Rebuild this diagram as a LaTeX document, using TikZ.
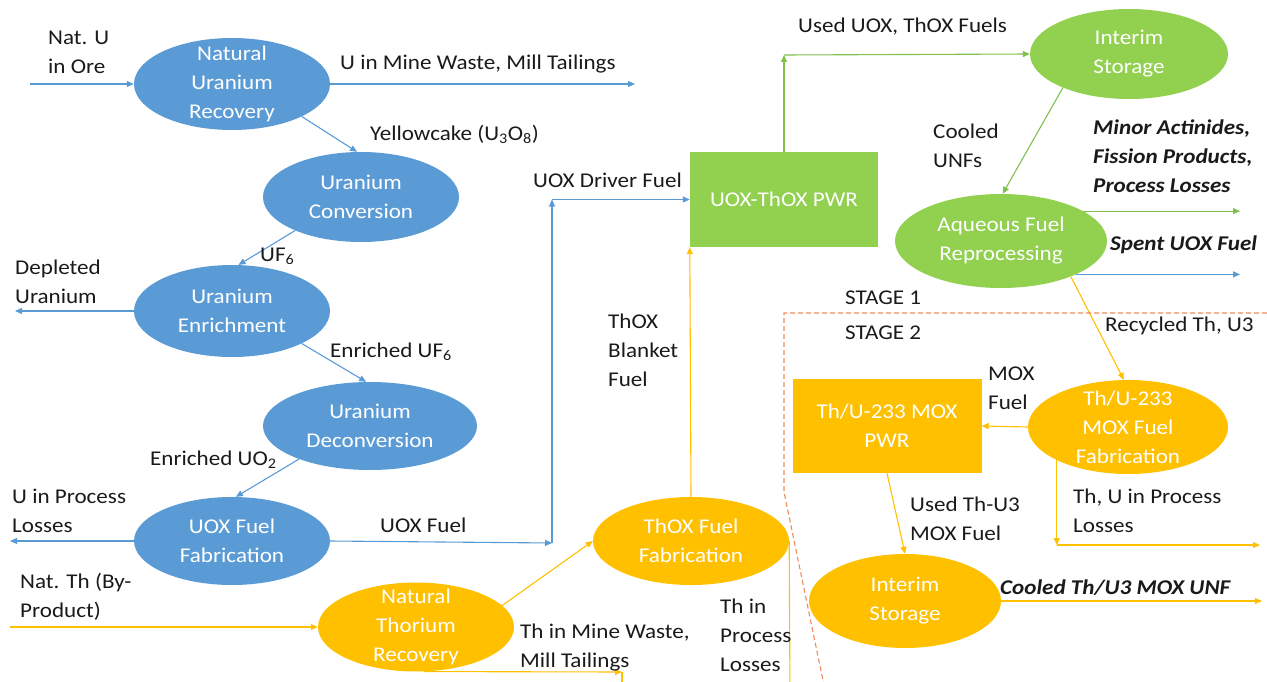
\documentclass[tikz,border=0pt]{standalone}
\usepackage{fontspec}
\setmainfont{Carlito}[FakeStretch=1.1]
\usetikzlibrary{shapes.geometric,arrows.meta}
\definecolor{ublue}{HTML}{5B9BD5}
\definecolor{ugreen}{HTML}{92D050}
\definecolor{gline}{HTML}{7FC04E}
\definecolor{uamber}{HTML}{FFC000}
\definecolor{stageline}{HTML}{F08A5D}
\definecolor{ink}{HTML}{1A1A1A}
\tikzset{
  ptext/.style={text=white,align=center,inner sep=0pt},
  proc/.style={ellipse,minimum width=196pt,minimum height=90pt,inner sep=0pt,
    label={[ptext]center:{#1}}},
  bluep/.style={proc={#1},fill=ublue},
  greenp/.style={proc={#1},fill=ugreen},
  amberp/.style={proc={#1},fill=uamber},
  reactor/.style={rectangle,minimum width=188pt,minimum height=95pt,inner sep=0pt,
    text=white,align=center},
  lbl/.style={anchor=west,align=left,inner sep=0pt,text=ink},
  elbl/.style={lbl,font=\fontsize{21}{29}\selectfont\bfseries\itshape},
  flow/.style={line width=1.1pt,-{Triangle[length=7pt,width=6pt]}},
  bflow/.style={flow,draw=ublue},
  gflow/.style={flow,draw=gline},
  aflow/.style={flow,draw=uamber},
  stage/.style={draw=stageline,line width=1.1pt,dash pattern=on 5pt off 3pt}
}
\begin{document}
\begin{tikzpicture}[x=1pt,y=-1pt,font=\fontsize{21}{29}\selectfont]
\useasboundingbox (0,0) rectangle (1267,682);

% uranium front end
\node[bluep={Natural\\Uranium\\Recovery},minimum height=92pt] (nur) at (232,84) {};
\node[bluep={Uranium\\Conversion}] (conv) at (361,197) {};
\node[bluep={Uranium\\Enrichment},minimum height=92pt] (enr) at (232,311) {};
\node[bluep={Uranium\\Deconversion},minimum width=214pt,minimum height=88pt] (deconv) at (370,426) {};
\node[bluep={UOX Fuel\\Fabrication},minimum height=88pt] (fab) at (232,541) {};

% thorium front end
\node[amberp={Natural\\Thorium\\Recovery},minimum height=89pt] (ntr) at (416,627) {};
\node[amberp={ThOX Fuel\\Fabrication},minimum height=88pt] (thfab) at (691,541) {};

% stage 1 reactor and back end
\node[reactor,fill=ugreen] (pwr1) at (784,199.5) {UOX-ThOX PWR};
\node[greenp={Interim\\Storage},minimum width=198pt,minimum height=90pt] (is1) at (1129,54) {};
\node[greenp={Aqueous Fuel\\Reprocessing},minimum width=212pt,minimum height=94pt] (aq) at (1001,241) {};

% stage 2
\node[reactor,fill=uamber,minimum width=189pt,minimum height=94pt] (pwr2) at (887,426) {Th/U-233 MOX\\PWR};
\node[amberp={Th/U-233\\MOX Fuel\\Fabrication},minimum width=200pt,minimum height=94pt] (mfab) at (1128,427) {};
\node[amberp={Interim\\Storage},minimum width=192pt,minimum height=94pt] (is2) at (905,601) {};

% free ends
\coordinate (natUin) at (30,84);
\coordinate (mineU) at (635,84);
\coordinate (du) at (15,311);
\coordinate (upl) at (10,541);
\coordinate (jA) at (552,543);
\coordinate (jB) at (552,199.5);
\coordinate (natTh) at (10,627);
\coordinate (thMine) at (622,672);
\coordinate (thMineEnd) at (622,700);
\coordinate (thLossEnd) at (790,700);
\coordinate (jC) at (784,55);
\coordinate (rightEnd) at (1240,0);
\coordinate (thuLoss) at (1260,545);
\coordinate (muEnd) at (1262,601);

% uranium chain
\draw[bflow] (natUin) -- (nur.west);
\draw[bflow] (nur.east) -- (mineU);
\draw[bflow] (nur.-25) -- (conv.95);
\draw[bflow] (conv.-153) -- (enr.82);
\draw[bflow] (enr.west) -- (du);
\draw[bflow] (enr.-25) -- (deconv.95);
\draw[bflow] (deconv.-155) -- (fab.85);
\draw[bflow] (fab.west) -- (upl);
\draw[bflow] (fab.east) -- (jA);
\draw[bflow] (jA) -- (jB);
\draw[bflow] (jB) -- (pwr1.west);

% thorium chain
\draw[aflow] (natTh) -- (ntr.west);
\draw[aflow] (ntr.14) -- (thfab.west);
\draw[aflow] (ntr.-80) -- (thMine);
\draw[aflow] (thMine) -- (thMineEnd);
\draw[aflow] (thfab.north) -- (pwr1.south west);
\draw[aflow] (thfab.east) -- (thLossEnd);

% stage 1 back end
\draw[gflow] (pwr1.north) -- (jC);
\draw[gflow] (jC) -- (is1.west);
\draw[gflow] (is1.-153) -- (aq.88);
\draw[gflow] (aq.20) -- (aq.20 -| rightEnd);
\draw[bflow] (aq.-24) -- (aq.-24 -| rightEnd);
\draw[aflow] (aq.-27) -- (mfab.95);

% stage 2 flows
\draw[aflow] (mfab.west) -- (pwr2.east);
\draw[aflow] (mfab.-155) -- (mfab.-155 |- thuLoss);
\draw[aflow] (mfab.-155 |- thuLoss) -- (thuLoss);
\draw[aflow] (pwr2.south) -- (is2.north);
\draw[aflow] (is2.east) -- (muEnd);

% stage boundary
\draw[stage] (1275,313) -- (784,313) -- (784,492) -- (826,695);

% flow labels
\node[lbl] (lNatU) at (48,52) {Nat. U\\in Ore};
\node[lbl] (lMineU) at (340,64) {U in Mine Waste, Mill Tailings};
\node[lbl] (lYc) at (370,134) {Yellowcake (U\textsubscript{3}O\textsubscript{8})};
\node[lbl] (lUF) at (260,256) {UF\textsubscript{6}};
\node[lbl] (lDU) at (15,282) {Depleted\\Uranium};
\node[lbl] (lEUF) at (330,352) {Enriched UF\textsubscript{6}};
\node[lbl] (lEUO) at (150,460) {Enriched UO\textsubscript{2}};
\node[lbl] (lUPL) at (12,511) {U in Process\\Losses};
\node[lbl] (lUOX) at (380,525) {UOX Fuel};
\node[lbl] (lDrv) at (533,180) {UOX Driver Fuel};
\node[lbl] (lNatTh) at (20,597) {Nat. Th (By-\\Product)};
\node[lbl] (lThMine) at (520,648) {Th in Mine Waste,\\Mill Tailings};
\node[lbl] (lBlk) at (608,350) {ThOX\\Blanket\\Fuel};
\node[lbl] (lThPL) at (720,635) {Th in\\Process\\Losses};
\node[lbl] (lUsed) at (798,27) {Used UOX, ThOX Fuels};
\node[lbl] (lCool) at (933,146) {Cooled\\UNFs};
\node[elbl] (lMA) at (1093,156) {Minor Actinides,\\Fission Products,\\Process Losses};
\node[elbl] (lSpent) at (1110,245) {Spent UOX Fuel};
\node[lbl] (lS1) at (845,298) {STAGE 1};
\node[lbl] (lS2) at (845,333) {STAGE 2};
\node[lbl] (lRec) at (1105,326) {Recycled Th, U3};
\node[lbl] (lMOX) at (988,388) {MOX\\Fuel};
\node[lbl] (lThU) at (1073,511) {Th, U in Process\\Losses};
\node[lbl] (lUsed2) at (910,519) {Used Th-U3\\MOX Fuel};
\node[elbl] (lCool2) at (1000,588) {Cooled Th/U3 MOX UNF};
\end{tikzpicture}
\end{document}
